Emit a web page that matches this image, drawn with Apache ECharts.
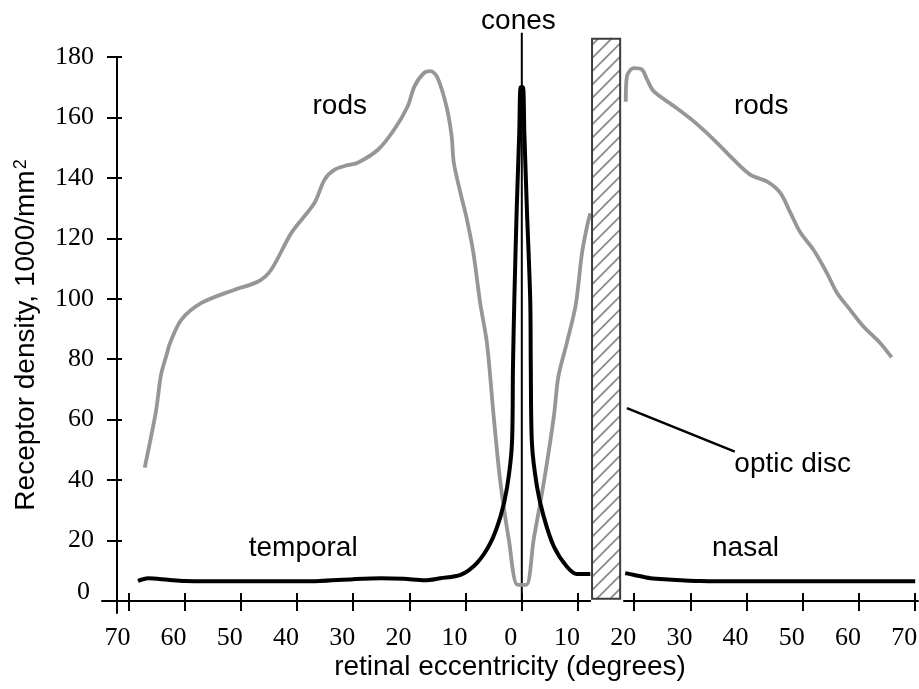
<!DOCTYPE html>
<html><head><meta charset="utf-8">
<script src="https://cdn.jsdelivr.net/npm/echarts@6/dist/echarts.min.js"></script>
<style>html,body{margin:0;padding:0;background:#fff}#c{width:919px;height:689px}</style>
</head><body><div id="c"></div>
<script>
// ---- data ----
const xTicks = [-70, -60, -50, -40, -30, -20, -10, 0, 10, 20, 30, 40, 50, 60, 70];
const yTicks = [0, 20, 40, 60, 80, 100, 120, 140, 160, 180];

const rodsTemporal = [
  [-67.1, 44.1], [-65.1, 62.7], [-64.2, 74.8], [-63.2, 81.5], [-62.6, 85.3], [-60.6, 93.0],
  [-57.0, 98.6], [-51.1, 103], [-46.9, 105.7], [-44.6, 109.6], [-41.0, 121.8], [-36.9, 131.7],
  [-35.1, 139.4], [-33.3, 142.7], [-31.0, 144.2], [-29.2, 145], [-25.6, 149.3], [-22.7, 156],
  [-20.3, 163.7], [-19.1, 170.3], [-17.4, 174.7], [-16.2, 175.3], [-15.0, 173.1], [-13.4, 163.6],
  [-12.5, 154], [-12.1, 145], [-10.9, 134.9], [-9.75, 126.1], [-8.6, 115], [-7.4, 98.5],
  [-6.2, 85.3], [-5.0, 61], [-3.8, 39], [-2.3, 20.2], [-0.75, 5.3], [0.8, 5.3], [2.1, 20.2],
  [3.9, 39], [5.7, 61], [6.5, 74.2], [8.0, 85.3], [9.6, 98], [10.7, 115], [11.6, 123.9], [12.2, 128.3]
];
const rodsNasal = [
  [18.5, 165.2], [18.7, 173.6], [19.9, 176.3], [21.4, 175.8], [22.3, 172.5], [23.5, 168.6],
  [27.1, 163.7], [30.6, 158.7], [34.2, 152.6], [37.7, 146], [40.7, 141], [43.6, 138.8],
  [46.0, 135], [47.8, 128.4], [49.6, 121.8], [51.9, 116.2], [54.3, 108.5], [56.1, 101.9],
  [58.4, 96.4], [60.8, 90.8], [63.8, 85.3], [65.8, 80.6]
];
const conesTemporal = [
  [-68.3, 6.6], [-66.5, 7.5], [-63, 7.0], [-60, 6.6], [-50, 6.5], [-40, 6.5], [-36, 6.6],
  [-30, 7.2], [-25, 7.5], [-21, 7.3], [-17.3, 6.8], [-14.5, 7.5], [-10.9, 8.6], [-8, 12.5],
  [-5.6, 19.1], [-3.8, 27.9], [-2.6, 37.8], [-1.75, 52.2], [-1.57, 77.5], [-1.33, 99.6],
  [-0.9, 130], [-0.45, 155], [-0.2, 170], [0.2, 170], [0.45, 155], [0.9, 130], [1.5, 99.6],
  [1.6, 77.5], [1.8, 52.2], [2.7, 37.8], [3.9, 27.9], [5.7, 18], [8.0, 11.4], [9.8, 8.9], [12.2, 8.9]
];
const conesNasal = [
  [18.4, 9.2], [20, 8.6], [22.9, 7.5], [26, 7.1], [31.8, 6.6], [40, 6.5], [50, 6.5], [60, 6.5], [70, 6.5]
];
const opticDisc = [[12.5, 17.5, 0.7, 186]];           // x from, x to, y from, y to
const conesPointer = [[0, 188], [0, 0]];
const discPointer = [[18.7, 63.8], [37.9, 49.4]];
const noteTexts = ['cones', 'rods', 'rods', 'temporal', 'nasal', 'optic disc'];
const noteX = [-0.6, -32.4, 42.6, -38.9, 39.8, 48.2];
const noteY = [191.8, 163.8, 163.8, 17.5, 17.5, 45.3];
const xTitle = 'retinal eccentricity (degrees)';
const yTitle = 'Receptor density, 1000/mm';

// ---- chart ----
const chart = echarts.init(document.getElementById('c'), null, {renderer: 'canvas'});
const SANS = 'Liberation Sans, Arial, sans-serif';
const SERIF = 'Liberation Serif, Times New Roman, serif';
const X_MIN = -74.7, X_MAX = 70.5, Y_MIN = -4, Y_MAX = 180;

function hatchRender(params, api) {
  const x0 = api.value(0), x1 = api.value(1), y0 = api.value(2), y1 = api.value(3);
  const p0 = api.coord([x0, y0]), p1 = api.coord([x1, y1]);
  const left = p0[0], right = p1[0], bottom = p0[1], top = p1[1];
  const w = right - left;
  const c0 = api.coord([x0 - 0.2, -1]), c1 = api.coord([x1 + 0.55, 0.8]);
  const children = [
    {type: 'rect', shape: {x: c0[0], y: c1[1], width: c1[0] - c0[0], height: c0[1] - c1[1]},
      style: {fill: '#fff'}},
    {type: 'rect', shape: {x: left, y: top, width: w, height: bottom - top}, style: {fill: '#fff'}}
  ];
  const step = 13.3;
  for (let c = top + 6; c < bottom + w; c += step) {
    const t0 = Math.max(0, c - bottom), t1 = Math.min(w, c - top);
    if (t1 > t0) {
      children.push({type: 'line',
        shape: {x1: left + t0, y1: c - t0, x2: left + t1, y2: c - t1},
        style: {stroke: '#8a8a8a', lineWidth: 1.8}});
    }
  }
  children.push({type: 'rect', shape: {x: left, y: top, width: w, height: bottom - top},
    style: {fill: null, stroke: '#3c3c3c', lineWidth: 2}});
  return {type: 'group', children};
}

const lineCommon = {type: 'line', showSymbol: false, symbol: 'none', clip: false,
  smooth: 0.3, animation: false};

const option = {
  animation: false,
  backgroundColor: '#fff',
  grid: {left: 102, right: 1, top: 57, bottom: 76, containLabel: false, outerBoundsMode: 'none'},
  xAxis: [
    {type: 'value', min: X_MIN, max: X_MAX, position: 'bottom',
      axisLine: {show: true, onZero: true, onZeroAxisIndex: 0, lineStyle: {color: '#000', width: 2}},
      axisTick: {show: true, inside: false, length: 10, lineStyle: {color: '#000', width: 2}, customValues: xTicks},
      axisLabel: {show: true, customValues: xTicks, margin: 12, padding: [0, 22, 0, 0],
        fontFamily: SERIF, fontSize: 26, color: '#000', formatter: v => String(Math.abs(v))},
      splitLine: {show: false},
      name: xTitle, nameLocation: 'middle', nameGap: 40, nameMoveOverlap: false,
      nameTextStyle: {fontFamily: SANS, fontSize: 28, color: '#000'}},
    {type: 'value', min: X_MIN, max: X_MAX, position: 'bottom',
      axisLine: {show: true, onZero: true, onZeroAxisIndex: 0, lineStyle: {color: 'rgba(0,0,0,0)', width: 0}},
      axisTick: {show: true, inside: true, length: 8, lineStyle: {color: '#000', width: 2}, customValues: xTicks},
      axisLabel: {show: false, customValues: xTicks}, splitLine: {show: false}}
  ],
  yAxis: [
    {type: 'value', min: Y_MIN, max: Y_MAX, position: 'left', offset: -15,
      axisLine: {show: true, onZero: false, lineStyle: {color: '#000', width: 2}},
      axisTick: {show: true, inside: false, length: 10, lineStyle: {color: '#000', width: 2}, customValues: yTicks},
      axisLabel: {show: true, customValues: yTicks, margin: 23, fontFamily: SERIF, fontSize: 26, color: '#000',
        formatter: v => v === 0 ? '{z|0}' : String(v),
        rich: {z: {fontFamily: SERIF, fontSize: 26, color: '#000', padding: [0, 4, 18, 0]}}},
      splitLine: {show: false},
      name: yTitle + '{sup|2}', nameLocation: 'middle', nameGap: 77, nameMoveOverlap: false,
      nameTextStyle: {fontFamily: SANS, fontSize: 28, color: '#000', lineHeight: 28,
        rich: {sup: {fontFamily: SANS, fontSize: 18, color: '#000', verticalAlign: 'top', padding: [0, 0, 0, 1]}}}},
    {type: 'value', min: Y_MIN, max: Y_MAX, position: 'left', offset: -15,
      axisLine: {show: true, onZero: false, lineStyle: {color: 'rgba(0,0,0,0)', width: 0}},
      axisTick: {show: true, inside: true, length: 5, lineStyle: {color: '#000', width: 2}, customValues: yTicks},
      axisLabel: {show: false, customValues: yTicks}, splitLine: {show: false}}
  ],
  series: [
    Object.assign({}, lineCommon, {name: 'cones pointer', data: conesPointer, smooth: false,
      lineStyle: {color: '#000', width: 2}, z: 1}),
    Object.assign({}, lineCommon, {name: 'rods temporal', data: rodsTemporal,
      lineStyle: {color: '#969696', width: 3.8}, z: 2}),
    Object.assign({}, lineCommon, {name: 'rods nasal', data: rodsNasal,
      lineStyle: {color: '#969696', width: 3.8}, z: 2}),
    Object.assign({}, lineCommon, {name: 'cones temporal', data: conesTemporal,
      lineStyle: {color: '#000', width: 4}, z: 3}),
    Object.assign({}, lineCommon, {name: 'cones nasal', data: conesNasal,
      lineStyle: {color: '#000', width: 4}, z: 3}),
    {type: 'custom', name: 'optic disc', data: opticDisc, renderItem: hatchRender, clip: false, z: 4},
    Object.assign({}, lineCommon, {name: 'disc pointer', data: discPointer, smooth: false,
      lineStyle: {color: '#000', width: 2.5}, z: 4}),
    {type: 'scatter', name: 'notes', symbolSize: 0, clip: false, z: 5, itemStyle: {color: '#000'},
      data: noteTexts.map((t, i) => ({name: t, value: [noteX[i], noteY[i]]})),
      label: {show: true, position: 'inside', formatter: p => p.name,
        fontFamily: SANS, fontSize: 28, color: '#000', textBorderWidth: 0, opacity: 1}}
  ]
};
chart.setOption(option);
</script></body></html>
